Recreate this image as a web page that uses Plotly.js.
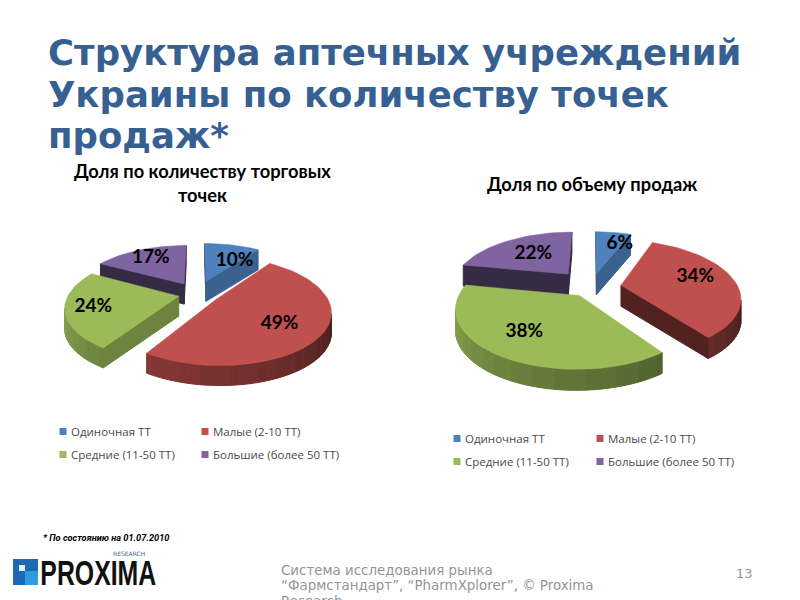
<!DOCTYPE html>
<html><head><meta charset="utf-8">
<script src="https://cdn.plot.ly/plotly-3.0.0.min.js"></script>
<style>html,body{margin:0;padding:0;background:#fff;overflow:hidden}#c{width:800px;height:600px}</style>
</head><body><div id="c"></div>
<script>
var categories = ["Одиночная ТТ", "Малые (2-10 ТТ)", "Средние (11-50 ТТ)", "Большие (более 50 ТТ)"];
var outletShare = [10, 49, 24, 17];
var salesShare = [6, 34, 38, 22];
var colors = ["#4f81bd", "#c0504d", "#9bbb59", "#8064a2"];
var titleText = "Структура аптечных учреждений<br>Украины по количеству точек<br>продаж*";
var leftTitle = "Доля по количеству торговых<br>точек";
var rightTitle = "Доля по объему продаж";

// pie geometry (style, not data)
var W = 800, H = 600;
var pies = [
  {values: outletShare, cx: 197, cy: 294, rx: 110, ry: 50, k: 0.2, depth: 20, xa: "x", ya: "y",
   pull: [0.28, 0.2, 0.17, 0.24], labelR: [0.58, 0.66, 0.76, 0.72], labelTurn: [14, 6, -2, 0], radialShade: [0.75, 0.42, 0.7, 0.42]},
  {values: salesShare, cx: 591, cy: 287, rx: 117, ry: 55, k: 0.2, depth: 21, xa: "x2", ya: "y2",
   pull: [0.26, 0.26, 0.18, 0.32], labelR: [0.72, 0.68, 0.68, 0.56], labelTurn: [9, -5, 3, 0], radialShade: [0.75, 0.42, 0.7, 0.42]}
];

function hexToRgb(h){return [parseInt(h.substr(1,2),16),parseInt(h.substr(3,2),16),parseInt(h.substr(5,2),16)];}
function shade(h,f){var c=hexToRgb(h);return "rgb("+c.map(function(v){return Math.round(v*f);}).join(",")+")";}

var traces = [];
var rad = Math.PI/180;
pies.forEach(function(p){
  var total = p.values.reduce(function(a,b){return a+b;},0);
  function proj(u,v){var s=1/(1+p.k*v);return [u*s,v*s];}
  var slices=[], a0=0;
  p.values.forEach(function(val,i){
    var a1=a0+val/total*360, m=(a0+a1)/2;
    var ou=p.pull[i]*Math.sin(m*rad), ov=p.pull[i]*Math.cos(m*rad);
    var pts=[proj(ou,ov)];
    var n=Math.max(2,Math.ceil((a1-a0)/3));
    for(var j=0;j<=n;j++){var a=a0+(a1-a0)*j/n;pts.push(proj(ou+Math.sin(a*rad),ov+Math.cos(a*rad)));}
    var lr=p.labelR[i], lm=(m+p.labelTurn[i])*rad;
    var lab=proj(ou+lr*Math.sin(lm),ov+lr*Math.cos(lm));
    slices.push({i:i,val:val,m:m,ov:ov+Math.cos(m*rad)*0.5,pts:pts,lab:lab});
    a0=a1;
  });
  slices.slice().sort(function(a,b){return b.ov-a.ov;}).forEach(function(sl){
    var col=colors[sl.i], d=p.depth/p.ry, bands={}, N=sl.pts.length;
    for(var e=0;e<N;e++){
      var P=sl.pts[e],Q=sl.pts[(e+1)%N],dx=(Q[0]-P[0])*p.rx,dy=(Q[1]-P[1])*p.ry;
      if(dx>=0) continue;
      var f;
      if(e===0||e===N-1){f=p.radialShade[sl.i];}
      else{var len=Math.sqrt(dx*dx+dy*dy),nx=-dy/len;f=0.84-0.44*(nx+1)/2;f=Math.round(f*40)/40;}
      var kf=f.toFixed(3);
      if(!bands[kf])bands[kf]={x:[],y:[]};
      bands[kf].x.push(P[0],Q[0],Q[0],P[0],P[0],null);
      bands[kf].y.push(P[1],Q[1],Q[1]-d,P[1]-d,P[1],null);
    }
    Object.keys(bands).forEach(function(kf){
      var c=shade(col,parseFloat(kf));
      traces.push({type:"scatter",mode:"lines",x:bands[kf].x,y:bands[kf].y,xaxis:p.xa,yaxis:p.ya,fill:"toself",fillcolor:c,
        line:{color:c,width:1},showlegend:false,hoverinfo:"skip"});
    });
    var xs=sl.pts.map(function(q){return q[0];}),ys=sl.pts.map(function(q){return q[1];});
    xs.push(xs[0]);ys.push(ys[0]);
    traces.push({type:"scatter",mode:"lines",x:xs,y:ys,xaxis:p.xa,yaxis:p.ya,fill:"toself",fillcolor:col,
      line:{color:col,width:0.5},name:categories[sl.i],showlegend:false,hoverinfo:"name"});
  });
  traces.push({type:"scatter",mode:"text",x:slices.map(function(s){return s.lab[0];}),y:slices.map(function(s){return s.lab[1];}),
    text:slices.map(function(s){return s.val+"%";}),xaxis:p.xa,yaxis:p.ya,showlegend:false,hoverinfo:"skip",cliponaxis:false,
    textfont:{family:"Lato",size:19,color:"#000",weight:700},textposition:"middle center"});
});

var legendSpec=[
  {id:"legend", cols:[0,2], xa:"x", ya:"y"},{id:"legend2", cols:[1,3], xa:"x", ya:"y"},
  {id:"legend3", cols:[0,2], xa:"x2", ya:"y2"},{id:"legend4", cols:[1,3], xa:"x2", ya:"y2"}
];
legendSpec.forEach(function(L){
  L.cols.forEach(function(i){
    traces.push({type:"scatter",mode:"markers",x:[null],y:[null],xaxis:L.xa,yaxis:L.ya,name:categories[i],legend:L.id,
      legendgroup:L.id+i,showlegend:true,marker:{symbol:"square",size:7,color:colors[i]},hoverinfo:"skip"});
  });
});
function legendBox(px,py){return {x:px/W,y:1-py/H,xanchor:"left",yanchor:"top",bgcolor:"rgba(0,0,0,0)",borderwidth:0,
  font:{family:"Open Sans",size:11.5,color:"#4a4a4a"},tracegroupgap:4,itemclick:false,itemdoubleclick:false};}

function ax(range,anchor){return {visible:false,range:range,domain:[0,1],fixedrange:true,anchor:anchor};}
function ann(text,x,y,font,extra){var o={text:text,xref:"paper",yref:"paper",x:x/W,y:1-y/H,showarrow:false,xanchor:"left",yanchor:"middle",font:font,align:"left"};
  for(var k in extra)o[k]=extra[k];return o;}
var gray={family:"DejaVu Sans",size:13.4,color:"#949494"};
var layout={
  width:W,height:H,margin:{l:0,r:0,t:0,b:0},paper_bgcolor:"#fff",plot_bgcolor:"rgba(0,0,0,0)",showlegend:true,
  title:{text:titleText,x:48/W,xanchor:"left",xref:"paper",y:1-65/H,yanchor:"top",font:{family:"DejaVu Sans",size:35.5,weight:700,color:"#376092"}},
  xaxis:ax([(0-pies[0].cx)/pies[0].rx,(W-pies[0].cx)/pies[0].rx],"y"),
  yaxis:ax([(pies[0].cy-H)/pies[0].ry,pies[0].cy/pies[0].ry],"x"),
  xaxis2:ax([(0-pies[1].cx)/pies[1].rx,(W-pies[1].cx)/pies[1].rx],"y2"),
  yaxis2:ax([(pies[1].cy-H)/pies[1].ry,pies[1].cy/pies[1].ry],"x2"),
  legend:legendBox(31,417),legend2:legendBox(173,417),legend3:legendBox(425,424),legend4:legendBox(568,424),
  annotations:[
    ann(leftTitle,203,183,{family:"Lato",size:18.3,weight:700,color:"#000"},{xanchor:"center",align:"center"}),
    ann(rightTitle,592,184,{family:"Lato",size:18.3,weight:700,color:"#000"},{xanchor:"center"}),
    ann("* По состоянию на 01.07.2010",41,537,{family:"Roboto",size:9.2,weight:700,style:"italic",color:"#000"}),
    ann("Система исследования рынка",279,570,gray),
    ann("“Фармстандарт”, “PharmXplorer”, © Proxima",279,585,gray),
    ann("Research",279,601,gray),
    ann("13",734,573,{family:"DejaVu Sans",size:13,color:"#949494"}),
    ann("PROXIMA",39,572,{family:"Liberation Sans",size:36,weight:700,color:"#111"}),
    ann("RESEARCH",111,553,{family:"DejaVu Sans",size:6,color:"#3d5f85"})
  ],
  shapes:[
    {type:"rect",xref:"paper",yref:"paper",x0:13/W,x1:38/W,y0:1-559/H,y1:1-585/H,fillcolor:"#1c6bb0",line:{width:0}},
    {type:"rect",xref:"paper",yref:"paper",x0:25/W,x1:38/W,y0:1-571/H,y1:1-585/H,fillcolor:"#2f9be0",line:{width:0}},
    {type:"rect",xref:"paper",yref:"paper",x0:19/W,x1:25/W,y0:1-565/H,y1:1-571/H,fillcolor:"#dfeefa",line:{width:0}}
  ]
};
Plotly.newPlot("c",traces,layout,{displayModeBar:false,staticPlot:true}).then(function(gd){
  // title line pitch, legend swatch position, condensed logotype
  var lines=document.querySelectorAll(".gtitle tspan.line");
  lines.forEach(function(t,i){t.setAttribute("dy",(i*41.5)+"px");});
  document.querySelectorAll(".legendsymbols").forEach(function(g){g.setAttribute("transform","translate(12,0)");});
  document.querySelectorAll(".annotation").forEach(function(g){
    if(g.textContent==="PROXIMA"){var s=0.69;g.setAttribute("transform","translate("+(39*(1-s))+",0) scale("+s+",1)");}
  });
});
</script></body></html>
